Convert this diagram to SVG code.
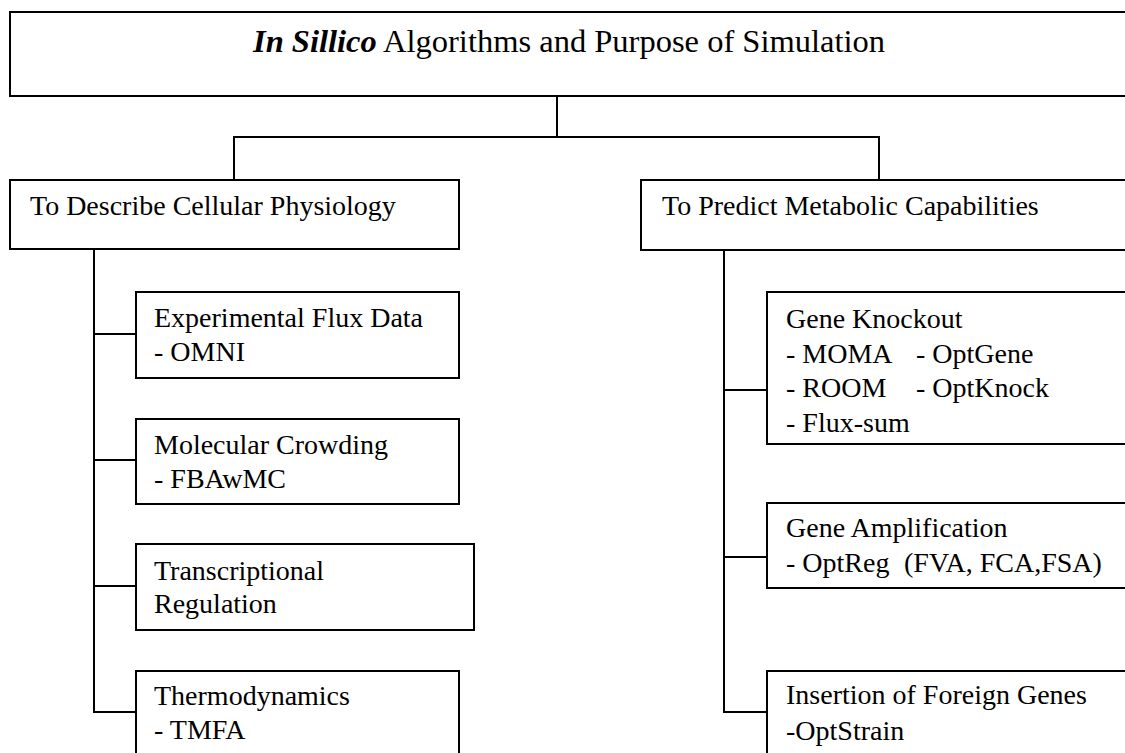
<svg xmlns="http://www.w3.org/2000/svg" width="1125" height="753" viewBox="0 0 1125 753">
<style>
rect.box{fill:#fff;stroke:#000;stroke-width:2}
.conn line{stroke:#000;stroke-width:2}
text{font-family:"Liberation Serif","Times New Roman",serif;font-size:28px;fill:#000}
text.title{font-size:32.5px}
</style>
<rect width="1125" height="753" fill="#fff"/>
<g class="conn" id="connectors">
<line x1="557" y1="96" x2="557" y2="137"/>
<line x1="233" y1="137" x2="880" y2="137"/>
<line x1="234" y1="137" x2="234" y2="180"/>
<line x1="879" y1="137" x2="879" y2="180"/>
<line x1="94" y1="249" x2="94" y2="713"/>
<line x1="93" y1="334" x2="136" y2="334"/>
<line x1="93" y1="460" x2="136" y2="460"/>
<line x1="93" y1="586" x2="136" y2="586"/>
<line x1="93" y1="712" x2="136" y2="712"/>
<line x1="724" y1="250" x2="724" y2="713"/>
<line x1="723" y1="390" x2="767" y2="390"/>
<line x1="723" y1="557" x2="767" y2="557"/>
<line x1="723" y1="712" x2="767" y2="712"/>
</g>
<g id="title">
<rect class="box" x="10" y="12" width="1130" height="84"/>
<text class="title" x="253" y="52"><tspan font-weight="bold" font-style="italic">In Sillico</tspan> Algorithms and Purpose of Simulation</text>
</g>
<g id="describe">
<rect class="box" x="10" y="180" width="449" height="69"/>
<text x="30" y="215">To Describe Cellular Physiology</text>
</g>
<g id="predict">
<rect class="box" x="641" y="180" width="500" height="70"/>
<text x="662" y="215">To Predict Metabolic Capabilities</text>
</g>
<g id="flux">
<rect class="box" x="136" y="292" width="323" height="86"/>
<text x="154" y="327">Experimental Flux Data</text>
<text x="154" y="361">- OMNI</text>
</g>
<g id="crowding">
<rect class="box" x="136" y="419" width="323" height="85"/>
<text x="154" y="454">Molecular Crowding</text>
<text x="154" y="488">- FBAwMC</text>
</g>
<g id="transcriptional">
<rect class="box" x="136" y="544" width="338" height="86"/>
<text x="154" y="580">Transcriptional</text>
<text x="154" y="613">Regulation</text>
</g>
<g id="thermo">
<rect class="box" x="136" y="671" width="323" height="100"/>
<text x="154" y="705">Thermodynamics</text>
<text x="154" y="739">- TMFA</text>
</g>
<g id="knockout">
<rect class="box" x="767" y="292" width="380" height="152"/>
<text x="786" y="328">Gene Knockout</text>
<text x="786" y="363">- MOMA</text>
<text x="916" y="363">- OptGene</text>
<text x="786" y="397">- ROOM</text>
<text x="916" y="397">- OptKnock</text>
<text x="786" y="432">- Flux-sum</text>
</g>
<g id="amplification">
<rect class="box" x="767" y="503" width="380" height="85"/>
<text x="786" y="537">Gene Amplification</text>
<text x="786" y="572">- OptReg</text>
<text x="904" y="572">(FVA, FCA,FSA)</text>
</g>
<g id="insertion">
<rect class="box" x="767" y="671" width="380" height="100"/>
<text x="786" y="704">Insertion of Foreign Genes</text>
<text x="786" y="740">-OptStrain</text>
</g>
</svg>
